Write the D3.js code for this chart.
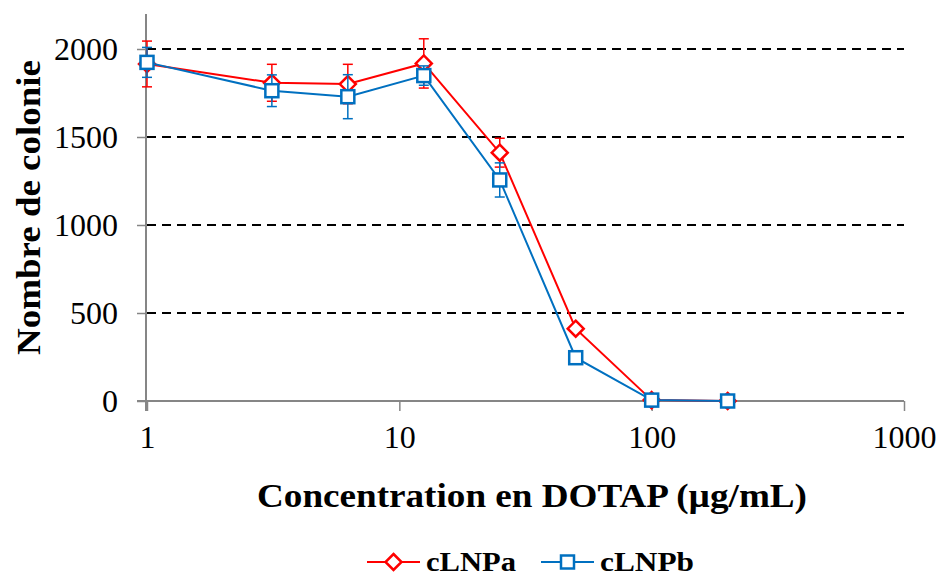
<!DOCTYPE html>
<html><head><meta charset="utf-8">
<script src="https://cdn.jsdelivr.net/npm/d3@7"></script>
<style>body{margin:0;background:#fff}svg{display:block}
svg text{font-family:"Liberation Serif","DejaVu Serif",Tinos,Times,serif;}</style>
</head><body>
<svg id="c" width="938" height="578"></svg>
<script>
const concentrations = [1, 3.125, 6.25, 12.5, 25, 50, 100, 200];
const seriesNames = ["cLNPa", "cLNPb"];
const cLNPa = [1915, 1808, 1801, 1918, 1411, 411, 5, 0];
const cLNPaErr = [130, 105, 112, 140, 82, 0, 0, 0];
const cLNPb = [1924, 1763, 1729, 1849, 1256, 246, 5, 0];
const cLNPbErr = [85, 90, 125, 55, 97, 0, 0, 0];
const yTicks = [0, 500, 1000, 1500, 2000];
const xTicks = [1, 10, 100, 1000];

const svg = d3.select("#c");
const x = d3.scaleLog().domain([1, 1000]).range([147, 904]);
const y = d3.scaleLinear().domain([0, 2000]).range([401, 49]);

// gridlines
svg.append("g").selectAll("line").data(yTicks.filter(d => d > 0)).join("line")
  .attr("x1", 147).attr("x2", 904).attr("y1", d => y(d)).attr("y2", d => y(d))
  .attr("stroke", "#000").attr("stroke-width", 2.2).attr("stroke-dasharray", "9,6");

// y axis
const ya = svg.append("g").attr("transform", "translate(146,0)")
  .call(d3.axisLeft(y).tickValues(yTicks).tickSize(9).tickPadding(19).tickFormat(d3.format("d")));
ya.attr("font-family", null);
ya.select(".domain").remove();
ya.append("line").attr("x1", 0).attr("x2", 0).attr("y1", 14).attr("y2", 411).attr("stroke", "#868686").attr("stroke-width", 2);
ya.selectAll(".tick line").attr("stroke", "#868686").attr("stroke-width", 1.5);
ya.selectAll("text").attr("font-size", 32).attr("fill", "#000").attr("dy", "0.34em");

// x axis
const xa = svg.append("g").attr("transform", "translate(0,401)")
  .call(d3.axisBottom(x).tickValues(xTicks).tickSize(10).tickPadding(14).tickFormat(d3.format("d")));
xa.attr("font-family", null);
xa.select(".domain").remove();
xa.append("line").attr("x1", 137).attr("x2", 904).attr("y1", 0).attr("y2", 0).attr("stroke", "#868686").attr("stroke-width", 2);
xa.selectAll(".tick line").attr("stroke", "#868686").attr("stroke-width", 1.5);
xa.selectAll("text").attr("font-size", 32).attr("fill", "#000");

// titles
svg.append("text").attr("transform", "translate(40,207.5) rotate(-90)")
  .attr("text-anchor", "middle").attr("font-weight", "bold")
  .attr("font-size", 34).attr("textLength", 295).attr("lengthAdjust", "spacingAndGlyphs")
  .text("Nombre de colonie");
svg.append("text").attr("x", 532).attr("y", 507)
  .attr("text-anchor", "middle").attr("font-weight", "bold")
  .attr("font-size", 33).attr("textLength", 550).attr("lengthAdjust", "spacingAndGlyphs")
  .text("Concentration en DOTAP (µg/mL)");

const series = [
  {name: seriesNames[0], vals: cLNPa, err: cLNPaErr, color: "#FF0000", shape: "diamond"},
  {name: seriesNames[1], vals: cLNPb, err: cLNPbErr, color: "#0070C0", shape: "square"}
];

function marker(g, shape, color) {
  if (shape === "diamond") {
    g.append("path").attr("d", "M0,-8L8,0L0,8L-8,0Z").attr("fill", "#fff")
      .attr("stroke", color).attr("stroke-width", 2.5);
  } else {
    g.append("rect").attr("x", -6.5).attr("y", -6.5).attr("width", 13).attr("height", 13)
      .attr("fill", "#fff").attr("stroke", color).attr("stroke-width", 2.5);
  }
}

series.forEach(s => {
  const g = svg.append("g");
  const pts = concentrations.map((c, i) => ({c, v: s.vals[i], e: s.err[i]}));
  pts.filter(p => p.e > 0).forEach(p => {
    const eg = g.append("g").attr("stroke", s.color).attr("stroke-width", 1.5);
    eg.append("line").attr("x1", x(p.c)).attr("x2", x(p.c)).attr("y1", y(p.v - p.e)).attr("y2", y(p.v + p.e));
    eg.append("line").attr("x1", x(p.c) - 5).attr("x2", x(p.c) + 5).attr("y1", y(p.v + p.e)).attr("y2", y(p.v + p.e));
    eg.append("line").attr("x1", x(p.c) - 5).attr("x2", x(p.c) + 5).attr("y1", y(p.v - p.e)).attr("y2", y(p.v - p.e));
  });
  g.append("path").datum(pts)
    .attr("d", d3.line().x(p => x(p.c)).y(p => y(p.v)))
    .attr("fill", "none").attr("stroke", s.color).attr("stroke-width", 2);
  pts.forEach(p => {
    marker(g.append("g").attr("transform", `translate(${x(p.c)},${y(p.v)})`), s.shape, s.color);
  });
});

// legend
const leg = svg.append("g");
const lx = [367, 541];
const lw = [90, 94];
series.forEach((s, i) => {
  const lg = leg.append("g").attr("transform", `translate(${lx[i]},562)`);
  lg.append("line").attr("x1", 0).attr("x2", 53).attr("stroke", s.color).attr("stroke-width", 2);
  marker(lg.append("g").attr("transform", "translate(26.5,0)"), s.shape, s.color);
  lg.append("text").attr("x", 59).attr("y", 9).attr("font-weight", "bold")
    .attr("font-size", 27).attr("textLength", lw[i]).attr("lengthAdjust", "spacingAndGlyphs").text(s.name);
});
</script>
</body></html>
